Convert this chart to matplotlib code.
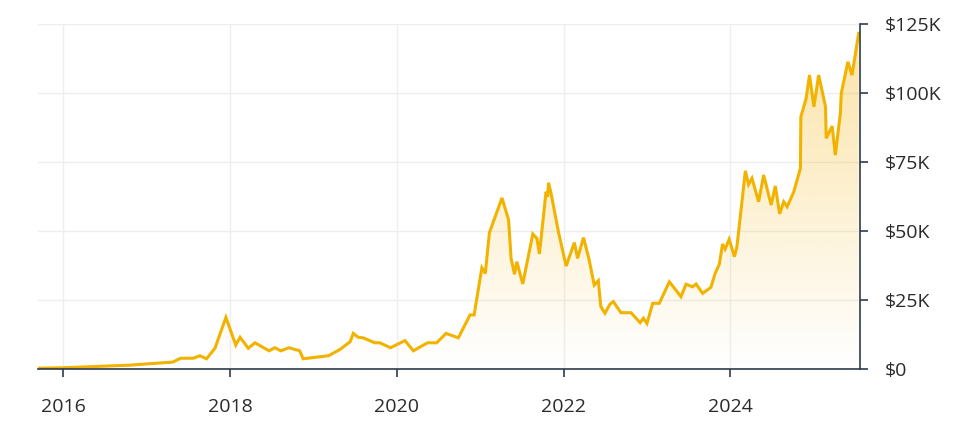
import matplotlib
matplotlib.use("Agg")
import matplotlib.pyplot as plt
import matplotlib.dates as mdates
import numpy as np
import pandas as pd

plt.rcParams['font.family'] = ['Open Sans', 'DejaVu Sans']

dates = [
    "2015-09-20", "2016-01-01", "2016-10-20", "2017-04-25", "2017-05-30", "2017-07-24",
    "2017-08-22", "2017-09-20", "2017-10-27", "2017-12-14", "2018-01-26", "2018-02-14",
    "2018-03-22", "2018-04-20", "2018-06-21", "2018-07-16", "2018-08-11", "2018-09-16",
    "2018-11-02", "2018-11-17", "2019-03-08", "2019-04-28", "2019-06-11", "2019-06-25",
    "2019-07-16", "2019-08-07", "2019-09-27", "2019-10-19", "2019-12-05", "2020-02-06",
    "2020-03-14", "2020-05-15", "2020-06-24", "2020-08-04", "2020-09-27", "2020-11-17",
    "2020-12-05", "2021-01-08", "2021-01-23", "2021-02-10", "2021-04-06", "2021-05-05",
    "2021-05-16", "2021-05-31", "2021-06-10", "2021-07-06", "2021-08-19", "2021-09-06",
    "2021-09-17", "2021-10-16", "2021-10-23", "2021-10-27", "2021-11-07", "2021-12-10",
    "2022-01-12", "2022-02-17", "2022-03-03", "2022-03-29", "2022-04-23", "2022-05-15",
    "2022-06-02", "2022-06-13", "2022-07-01", "2022-07-23", "2022-08-07", "2022-09-09",
    "2022-10-23", "2022-12-02", "2022-12-16", "2023-01-01", "2023-01-26", "2023-02-24",
    "2023-04-09", "2023-05-30", "2023-06-21", "2023-07-20", "2023-08-04", "2023-09-02",
    "2023-10-08", "2023-10-27", "2023-11-14", "2023-11-28", "2023-12-09", "2023-12-27",
    "2024-01-19", "2024-01-30", "2024-03-07", "2024-03-21", "2024-04-05", "2024-05-04",
    "2024-05-26", "2024-06-28", "2024-07-16", "2024-08-04", "2024-08-22", "2024-09-06",
    "2024-10-05", "2024-11-03", "2024-11-05", "2024-11-28", "2024-12-13", "2025-01-01",
    "2025-01-22", "2025-02-21", "2025-02-24", "2025-03-22", "2025-04-05", "2025-04-27",
    "2025-05-01", "2025-05-30", "2025-06-17", "2025-07-16",
]

prices_k = [
    0.3, 0.45, 1.4, 2.5, 3.9, 3.9,
    4.8, 3.7, 7.5, 18.7, 8.7, 11.5,
    7.5, 9.5, 6.6, 7.7, 6.6, 7.7,
    6.6, 3.7, 4.8, 7.1, 9.9, 12.9,
    11.5, 11.3, 9.5, 9.5, 7.7, 10.3,
    6.6, 9.5, 9.5, 12.9, 11.3, 19.6,
    19.6, 36.7, 34.6, 49.4, 62.0, 54.0,
    40.0, 34.3, 38.9, 30.8, 48.9, 47.3,
    41.7, 64.2, 62.4, 67.5, 63.6, 49.4,
    37.3, 45.8, 40.1, 47.6, 39.5, 30.4,
    32.0, 22.6, 20.2, 23.5, 24.4, 20.4,
    20.4, 16.8, 18.4, 16.5, 23.8, 23.8,
    31.6, 26.2, 30.7, 29.8, 30.8, 27.4,
    29.6, 34.7, 38.0, 45.3, 43.4, 47.0,
    40.7, 44.3, 71.8, 66.9, 69.1, 60.6,
    70.3, 59.4, 66.3, 56.2, 60.6, 58.8,
    64.2, 72.7, 91.4, 98.0, 106.5, 95.0,
    106.5, 95.0, 83.6, 88.0, 77.5, 92.6,
    99.9, 111.3, 106.5, 121.6,
]

y_ticks_k = [0, 25, 50, 75, 100, 125]
y_tick_labels = ["$0", "$25K", "$50K", "$75K", "$100K", "$125K"]
x_tick_years = [2016, 2018, 2020, 2022, 2024]

x = pd.to_datetime(dates)
y = np.array(prices_k) * 1000.0
xn = mdates.date2num(x)

LINE = "#F2B200"
AXC = "#2E3B4E"
TXT = "#2A2A2A"

fig = plt.figure(figsize=(9.8, 4.32), dpi=100)
ax = fig.add_axes([38/980, 1-369/432, (860-38)/980, (369-24)/432])

xmin = mdates.date2num(pd.Timestamp("2015-09-13"))
xmax = mdates.date2num(pd.Timestamp("2025-07-22"))
ymax = 125000
ax.set_xlim(xmin, xmax)
ax.set_ylim(0, ymax)

# gradient fill under curve
poly = ax.fill_between(xn, y, 0, color="none", lw=0)
grad = np.linspace(0, 1, 256).reshape(-1, 1)
rgba = np.zeros((256, 1, 4))
c = matplotlib.colors.to_rgb("#F5B000")
rgba[..., 0] = c[0]; rgba[..., 1] = c[1]; rgba[..., 2] = c[2]
rgba[..., 3] = 0.36 * grad[:, :]
im = ax.imshow(rgba, extent=[xmin, xmax, 0, ymax], origin="lower", aspect="auto", zorder=2)
path = poly.get_paths()[0]
im.set_clip_path(path, transform=ax.transData)

ax.plot(xn, y, color=LINE, lw=2.2, zorder=3, solid_joinstyle="miter")

# ticks
ax.set_xticks([mdates.date2num(pd.Timestamp(f"{yy}-01-01")) for yy in x_tick_years])
ax.set_xticklabels([str(yy) for yy in x_tick_years])
ax.set_yticks([v * 1000 for v in y_ticks_k])
ax.set_yticklabels(y_tick_labels)
ax.yaxis.tick_right()

ax.grid(True, color="#EEEEEE", lw=1.0, zorder=0)
ax.set_axisbelow(True)

for s in ["left", "top"]:
    ax.spines[s].set_visible(False)
for s in ["bottom", "right"]:
    ax.spines[s].set_color(AXC)
    ax.spines[s].set_linewidth(1.2)
    ax.spines[s].set_zorder(4)

ax.tick_params(axis="x", direction="out", length=6, width=1.2, color=AXC,
               labelsize=14, labelcolor=TXT, pad=15)
ax.tick_params(axis="y", direction="out", length=6, width=1.2, color=AXC,
               labelsize=14, labelcolor=TXT, pad=12, right=True, left=False)

fig.savefig("out.png", dpi=100, facecolor="white")
